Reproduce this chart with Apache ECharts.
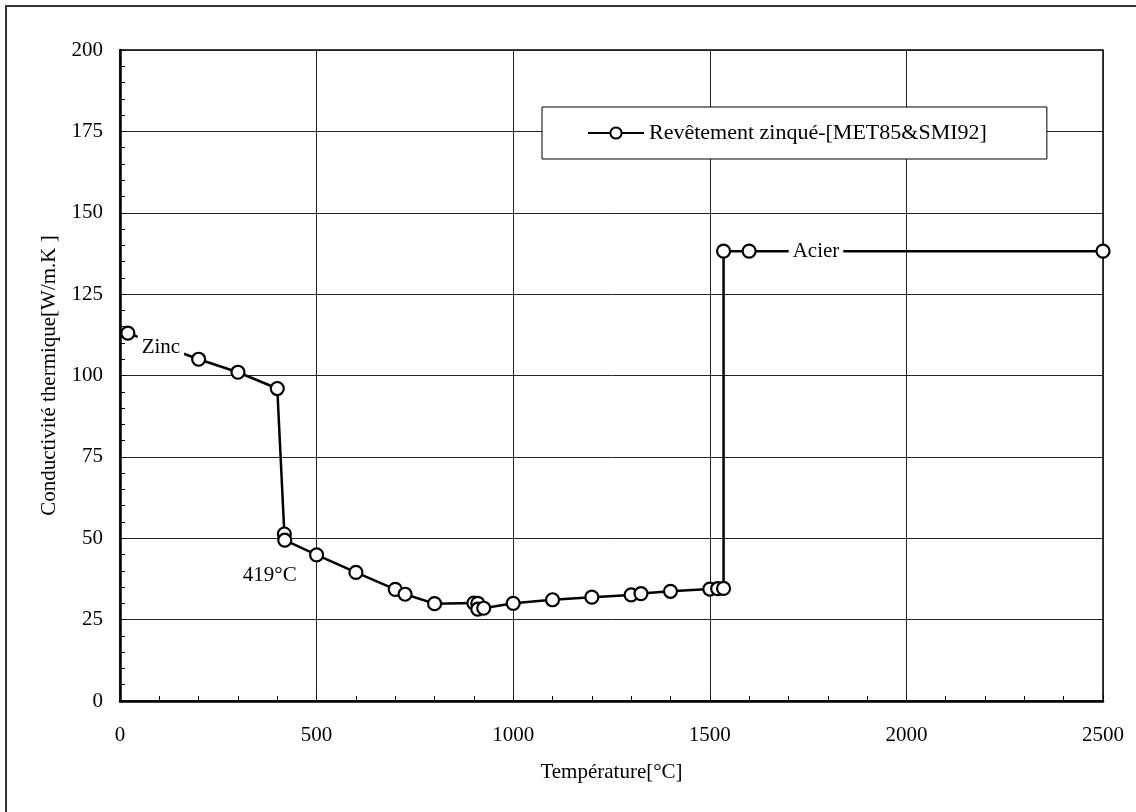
<!DOCTYPE html>
<html>
<head>
<meta charset="utf-8">
<script src="https://cdn.jsdelivr.net/npm/echarts@6/dist/echarts.min.js"></script>
<style>
  html, body { margin: 0; padding: 0; background: #fff; }
  #chart { width: 1136px; height: 812px; }
</style>
</head>
<body>
<div id="chart"></div>
<script>
const FONT = "'Liberation Serif', 'Times New Roman', serif";
const fontSize = 21;

// Température [°C]
const temps = [20, 200, 300, 400, 418, 419, 500, 600, 700, 725, 800, 900, 910, 910, 925,
  1000, 1100, 1200, 1300, 1325, 1400, 1500, 1520, 1535, 1535, 1600, 2500];
// Conductivité thermique [W/m.K]
const conductivity = [113, 105, 101, 96, 51.3, 49.4, 44.9, 39.5, 34.3, 32.8, 29.9, 30.1, 30.0, 28.2, 28.5,
  30, 31.1, 31.9, 32.6, 33, 33.7, 34.4, 34.5, 34.6, 138.2, 138.2, 138.2];

const seriesName = 'Revêtement zinqué-[MET85&SMI92]';

// annotations: [text, x, y]
const notes = [
  ['Zinc', 104, 108.7],
  ['419°C', 381, 38.7],
  ['Acier', 1770, 138.2]
];

const myChart = echarts.init(document.getElementById('chart'));

myChart.setOption({
  backgroundColor: '#fff',
  animation: false,
  textStyle: { fontFamily: FONT, color: '#000' },
  graphic: [{
    type: 'rect',
    shape: { x: 6, y: 6, width: 1200, height: 900 },
    style: { fill: 'none', stroke: '#333', lineWidth: 2 },
    silent: true
  }],
  grid: {
    left: 120,
    right: 33,
    top: 50,
    bottom: 111,
    show: true,
    borderColor: '#000',
    borderWidth: 1.5
  },
  legend: {
    left: 542,
    top: 107,
    padding: [15, 60, 15, 45],
    itemWidth: 56,
    itemHeight: 14,
    itemGap: 5,
    borderColor: '#000',
    borderWidth: 1,
    backgroundColor: '#fff',
    textStyle: { fontFamily: FONT, fontSize: 22, color: '#000' },
    data: [seriesName]
  },
  xAxis: {
    type: 'value',
    min: 0,
    max: 2500,
    interval: 500,
    name: 'Température[°C]',
    nameLocation: 'middle',
    nameGap: 61,
    nameTextStyle: { fontFamily: FONT, fontSize, color: '#000' },
    axisLine: { lineStyle: { color: '#000', width: 2.5 } },
    axisTick: { inside: true, length: 6, lineStyle: { color: '#000' } },
    minorTick: { show: true, splitNumber: 5, length: 5, lineStyle: { color: '#000', width: 1 } },
    axisLabel: { fontFamily: FONT, fontSize, color: '#000', margin: 24, formatter: v => String(v) },
    splitLine: { show: true, lineStyle: { color: '#222', width: 1 } }
  },
  yAxis: {
    type: 'value',
    min: 0,
    max: 200,
    interval: 25,
    name: 'Conductivité thermique[W/m.K ]',
    nameLocation: 'middle',
    nameGap: 60,
    nameTextStyle: { fontFamily: FONT, fontSize, color: '#000' },
    axisLine: { show: true, lineStyle: { color: '#000', width: 2.5 } },
    axisTick: { show: true, inside: true, length: 6, lineStyle: { color: '#000' } },
    minorTick: { show: true, splitNumber: 5, length: 5, lineStyle: { color: '#000', width: 1 } },
    axisLabel: { fontFamily: FONT, fontSize, color: '#000', margin: 17, formatter: v => String(v) },
    splitLine: { show: true, lineStyle: { color: '#222', width: 1 } }
  },
  series: [{
    name: seriesName,
    type: 'line',
    data: temps.map((t, i) => [t, conductivity[i]]),
    symbol: 'circle',
    symbolSize: 13,
    showAllSymbol: true,
    lineStyle: { color: '#000', width: 2.5 },
    itemStyle: { color: '#fff', borderColor: '#000', borderWidth: 2.2 },
    emphasis: { disabled: true },
    markPoint: {
      symbol: 'rect',
      symbolSize: 0,
      silent: true,
      label: {
        show: true,
        position: 'inside',
        fontFamily: FONT,
        fontSize,
        color: '#000',
        backgroundColor: '#fff',
        padding: [2, 4],
        formatter: p => p.name
      },
      data: notes.map(n => ({ name: n[0], coord: [n[1], n[2]] }))
    }
  }]
});
</script>
</body>
</html>
